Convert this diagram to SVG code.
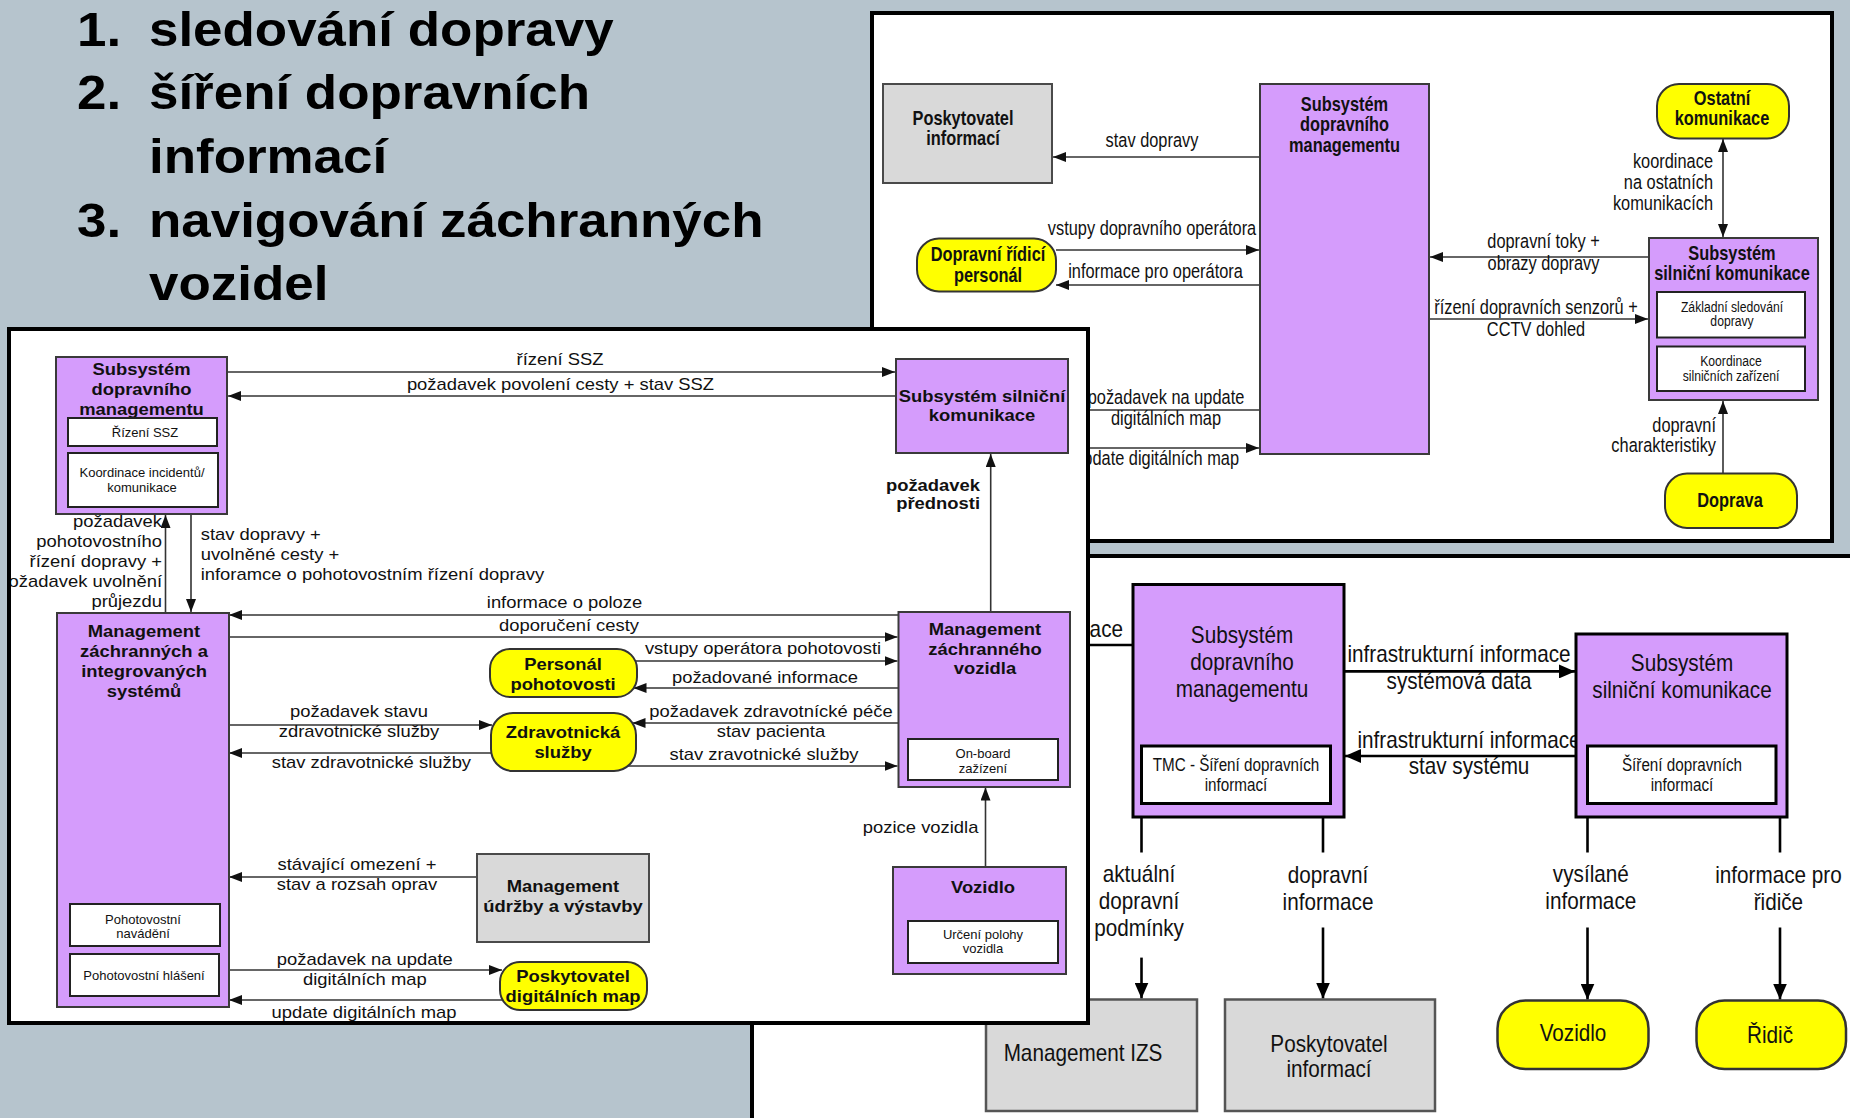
<svg xmlns="http://www.w3.org/2000/svg" width="1850" height="1118" viewBox="0 0 1850 1118">
<defs>
<style>
text{font-family:"Liberation Sans",Arial,sans-serif;fill:#111}
.b{font-weight:bold}
.m{text-anchor:middle}
.e{text-anchor:end}
.f1{font-size:19.5px}
.f1s{font-size:14px}
.f2{font-size:16px}
.f2s{font-size:13px}
.f3{font-size:23px}
.f3s{font-size:17.5px}
.ti{font-size:49px;font-weight:bold;fill:#000}
.panel{fill:#fff;stroke:#000;stroke-width:4}
.pu{fill:#d59cfc;stroke:#3a3a3a;stroke-width:2}
.pu3{fill:#d59cfc;stroke:#000;stroke-width:3}
.gr{fill:#d9d9d9;stroke:#4a4a4a;stroke-width:2}
.gr3{fill:#d9d9d9;stroke:#555;stroke-width:2.5}
.ye{fill:#ffff00;stroke:#333;stroke-width:2}
.ye3{fill:#ffff00;stroke:#333;stroke-width:2.5}
.wh{fill:#fff;stroke:#222;stroke-width:2}
.wh3{fill:#fff;stroke:#000;stroke-width:3}
.c{fill:none;stroke:#333;stroke-width:1.6}
.c3{fill:none;stroke:#000;stroke-width:2.6}
</style>
<marker id="ah" markerUnits="userSpaceOnUse" markerWidth="13" markerHeight="10" refX="13" refY="5" orient="auto-start-reverse"><path d="M0,0 L13,5 L0,10 z" fill="#111"/></marker>
<marker id="ah3" markerUnits="userSpaceOnUse" markerWidth="16" markerHeight="14" refX="16" refY="7" orient="auto"><path d="M0,0 L16,7 L0,14 z" fill="#000"/></marker>
<clipPath id="clip2"><rect x="11" y="331" width="1075" height="690"/></clipPath>
</defs>
<rect width="1850" height="1118" fill="#b6c4cd"/>

<g id="title">
<text class="ti" transform="translate(77,46) scale(1.08,1)">1.</text>
<text class="ti" transform="translate(149,46) scale(1.08,1)">sledování dopravy</text>
<text class="ti" transform="translate(77,109) scale(1.08,1)">2.</text>
<text class="ti" transform="translate(149,109) scale(1.08,1)">šíření dopravních</text>
<text class="ti" transform="translate(149,173) scale(1.08,1)">informací</text>
<text class="ti" transform="translate(77,237) scale(1.08,1)">3.</text>
<text class="ti" transform="translate(149,237) scale(1.08,1)">navigování záchranných</text>
<text class="ti" transform="translate(149,300) scale(1.08,1)">vozidel</text>
</g>

<!-- ===== Panel 1 (top right) ===== -->
<g id="panel-top-right">
<rect class="panel" x="872" y="13" width="960" height="528"/>
<g id="connectors-top">
<line class="c" x1="1260" y1="157" x2="1053" y2="157" marker-end="url(#ah)"/>
<line class="c" x1="1056" y1="250" x2="1259" y2="250" marker-end="url(#ah)"/>
<line class="c" x1="1261" y1="285" x2="1056" y2="285" marker-end="url(#ah)"/>
<line class="c" x1="1260" y1="410" x2="1075" y2="410" marker-end="url(#ah)"/>
<line class="c" x1="1070" y1="448" x2="1259" y2="448" marker-end="url(#ah)"/>
<line class="c" x1="1649" y1="257" x2="1430" y2="257" marker-end="url(#ah)"/>
<line class="c" x1="1429" y1="319" x2="1648" y2="319" marker-end="url(#ah)"/>
<line class="c" x1="1723" y1="237" x2="1723" y2="139" marker-start="url(#ah)" marker-end="url(#ah)"/>
<line class="c" x1="1723" y1="473" x2="1723" y2="401" marker-end="url(#ah)"/>
<text class="f1 m" transform="translate(1152,147) scale(.84,1)">stav dopravy</text>
<text class="f1 m" transform="translate(1152,235) scale(.84,1)">vstupy dopravního operátora</text>
<text class="f1 m" transform="translate(1155.5,278) scale(.84,1)">informace pro operátora</text>
<text class="f1 m" transform="translate(1166,404) scale(.84,1)">požadavek na update<tspan x="0" dy="21.5">digitálních map</tspan></text>
<text class="f1 e" transform="translate(1239,465) scale(.84,1)">update digitálních map</text>
<text class="f1 m" transform="translate(1543.5,248.3) scale(.84,1)">dopravní toky +<tspan x="0" dy="21.7">obrazy dopravy</tspan></text>
<text class="f1 m" transform="translate(1536,314) scale(.84,1)">řízení dopravních senzorů +<tspan x="0" dy="22">CCTV dohled</tspan></text>
<text class="f1 e" transform="translate(1713,168) scale(.84,1)">koordinace<tspan x="0" dy="21">na ostatních</tspan><tspan x="0" dy="21">komunikacích</tspan></text>
<text class="f1 e" transform="translate(1716,431.5) scale(.84,1)">dopravní<tspan x="0" dy="21">charakteristiky</tspan></text>
</g>
<g id="p1-poskytovatel-informaci"><rect class="gr" x="883" y="84" width="169" height="99"/><text class="f1 b m" transform="translate(963,124.5) scale(.84,1)">Poskytovatel<tspan x="0" dy="21">informací</tspan></text></g>
<g id="p1-subsystem-dm"><rect class="pu" x="1260" y="84" width="169" height="370"/><text class="f1 b m" transform="translate(1344.5,110.5) scale(.84,1)">Subsystém<tspan x="0" dy="21">dopravního</tspan><tspan x="0" dy="21">managementu</tspan></text></g>
<g id="p1-dopravni-ridici-personal"><rect class="ye" x="917" y="238.5" width="139" height="53" rx="22"/><text class="f1 b m" transform="translate(988,261) scale(.84,1)">Dopravní řídicí<tspan x="0" dy="21">personál</tspan></text></g>
<g id="p1-ostatni-komunikace"><rect class="ye" x="1657" y="84" width="132" height="54.5" rx="22"/><text class="f1 b m" transform="translate(1722,104.5) scale(.84,1)">Ostatní<tspan x="0" dy="21">komunikace</tspan></text></g>
<g id="p1-subsystem-sk"><rect class="pu" x="1649" y="238" width="169" height="162"/><text class="f1 b m" transform="translate(1732,259.5) scale(.84,1)">Subsystém<tspan x="0" dy="21">silniční komunikace</tspan></text>
<rect class="wh" x="1657" y="292" width="148" height="45.5"/><text class="f1s m" transform="translate(1732,311.5) scale(.87,1)">Základní sledování<tspan x="0" dy="14.5">dopravy</tspan></text>
<rect class="wh" x="1657" y="346.5" width="148" height="44.5"/><text class="f1s m" transform="translate(1731,365.5) scale(.87,1)">Koordinace<tspan x="0" dy="15.5">silničních zařízení</tspan></text></g>
<g id="p1-doprava"><rect class="ye" x="1665" y="473.5" width="132" height="54.5" rx="22"/><text class="f1 b m" transform="translate(1730,507) scale(.84,1)">Doprava</text></g>
</g>

<!-- ===== Panel 3 (bottom right) ===== -->
<g id="panel-bottom-right">
<rect class="panel" x="752" y="556" width="1200" height="700"/>
<g id="connectors-bottom-right">
<line class="c3" x1="1087" y1="645" x2="1133" y2="645"/>
<text class="f3 e" transform="translate(1123,637) scale(.9,1)">ace</text>
<line class="c3" x1="1344" y1="671.4" x2="1575" y2="671.4" marker-end="url(#ah3)"/>
<line class="c3" x1="1576" y1="756" x2="1345" y2="756" marker-end="url(#ah3)"/>
<text class="f3 m" transform="translate(1459,662.3) scale(.9,1)">infrastrukturní informace<tspan x="0" dy="27.2">systémová data</tspan></text>
<text class="f3 m" transform="translate(1469,747.5) scale(.9,1)">infrastrukturní informace<tspan x="0" dy="27">stav systému</tspan></text>
<line class="c3" x1="1141.5" y1="817" x2="1141.5" y2="852.5"/>
<line class="c3" x1="1141.5" y1="957.6" x2="1141.5" y2="998.5" marker-end="url(#ah3)"/>
<line class="c3" x1="1323" y1="817" x2="1323" y2="852.5"/>
<line class="c3" x1="1323" y1="927.5" x2="1323" y2="998.5" marker-end="url(#ah3)"/>
<line class="c3" x1="1587.5" y1="817" x2="1587.5" y2="852.5"/>
<line class="c3" x1="1587.5" y1="927.5" x2="1587.5" y2="999.5" marker-end="url(#ah3)"/>
<line class="c3" x1="1780" y1="817" x2="1780" y2="852.5"/>
<line class="c3" x1="1780" y1="927.5" x2="1780" y2="999.5" marker-end="url(#ah3)"/>
<text class="f3 m" transform="translate(1139,881.5) scale(.9,1)">aktuální<tspan x="0" dy="27.2">dopravní</tspan><tspan x="0" dy="27.2">podmínky</tspan></text>
<text class="f3 m" transform="translate(1328,883.3) scale(.9,1)">dopravní<tspan x="0" dy="27.2">informace</tspan></text>
<text class="f3 m" transform="translate(1590.8,881.5) scale(.9,1)">vysílané<tspan x="0" dy="27.2">informace</tspan></text>
<text class="f3 m" transform="translate(1778.4,883.3) scale(.9,1)">informace pro<tspan x="0" dy="27.2">řidiče</tspan></text>
</g>
<g id="p3-subsystem-dm"><rect class="pu3" x="1133" y="584.5" width="211" height="232.5"/><text class="f3 m" transform="translate(1242,643) scale(.9,1)">Subsystém<tspan x="0" dy="26.8">dopravního</tspan><tspan x="0" dy="26.8">managementu</tspan></text>
<rect class="wh3" x="1141.5" y="746" width="189" height="57.5"/><text class="f3s m" transform="translate(1236,771) scale(.87,1)">TMC - Šíření dopravních<tspan x="0" dy="20">informací</tspan></text></g>
<g id="p3-subsystem-sk"><rect class="pu3" x="1576" y="634" width="211" height="183"/><text class="f3 m" transform="translate(1682,671.4) scale(.9,1)">Subsystém<tspan x="0" dy="27">silniční komunikace</tspan></text>
<rect class="wh3" x="1587.5" y="746" width="188.5" height="57.5"/><text class="f3s m" transform="translate(1682,771) scale(.87,1)">Šíření dopravních<tspan x="0" dy="20">informací</tspan></text></g>
<g id="p3-management-izs"><rect class="gr3" x="986" y="999.5" width="211" height="111.5"/><text class="f3 m" transform="translate(1083,1061) scale(.9,1)">Management IZS</text></g>
<g id="p3-poskytovatel-informaci"><rect class="gr3" x="1225" y="999.5" width="210" height="111.5"/><text class="f3 m" transform="translate(1329,1052) scale(.9,1)">Poskytovatel<tspan x="0" dy="25">informací</tspan></text></g>
<g id="p3-vozidlo"><rect class="ye3" x="1497.5" y="1000.5" width="151" height="68.5" rx="28"/><text class="f3 m" transform="translate(1573,1041) scale(.9,1)">Vozidlo</text></g>
<g id="p3-ridic"><rect class="ye3" x="1696.5" y="1000.5" width="149.5" height="68.5" rx="28"/><text class="f3 m" transform="translate(1770,1043) scale(.9,1)">Řidič</text></g>
</g>

<!-- ===== Panel 2 (bottom left) ===== -->
<g id="panel-bottom-left">
<rect class="panel" x="9" y="329" width="1079" height="694"/>
<g clip-path="url(#clip2)">
<g id="connectors-bottom-left">
<line class="c" x1="227" y1="372" x2="895" y2="372" marker-end="url(#ah)"/>
<line class="c" x1="896" y1="396" x2="228" y2="396" marker-end="url(#ah)"/>
<line class="c" x1="165.5" y1="613" x2="165.5" y2="515" marker-end="url(#ah)"/>
<line class="c" x1="191" y1="514" x2="191" y2="612" marker-end="url(#ah)"/>
<line class="c" x1="898" y1="615" x2="229" y2="615" marker-end="url(#ah)"/>
<line class="c" x1="229" y1="637" x2="897.5" y2="637" marker-end="url(#ah)"/>
<line class="c" x1="630" y1="661" x2="897.5" y2="661" marker-end="url(#ah)"/>
<line class="c" x1="898" y1="688" x2="633.5" y2="688" marker-end="url(#ah)"/>
<line class="c" x1="898" y1="723" x2="632.5" y2="723" marker-end="url(#ah)"/>
<line class="c" x1="628" y1="766" x2="897.5" y2="766" marker-end="url(#ah)"/>
<line class="c" x1="229" y1="725" x2="492" y2="725" marker-end="url(#ah)"/>
<line class="c" x1="495" y1="753" x2="229" y2="753" marker-end="url(#ah)"/>
<line class="c" x1="990.7" y1="612" x2="990.7" y2="454" marker-end="url(#ah)"/>
<line class="c" x1="985.5" y1="867" x2="985.5" y2="787.5" marker-end="url(#ah)"/>
<line class="c" x1="477" y1="877" x2="229" y2="877" marker-end="url(#ah)"/>
<line class="c" x1="229" y1="970" x2="502" y2="970" marker-end="url(#ah)"/>
<line class="c" x1="505" y1="1000" x2="229" y2="1000" marker-end="url(#ah)"/>
<text class="f2 m" transform="translate(560,365) scale(1.15,1)">řízení SSZ</text>
<text class="f2 m" transform="translate(560.5,390) scale(1.15,1)">požadavek povolení cesty + stav SSZ</text>
<text class="f2 e" transform="translate(162,526.7) scale(1.15,1)">požadavek<tspan x="0" dy="20">pohotovostního</tspan><tspan x="0" dy="20">řízení dopravy +</tspan><tspan x="0" dy="20">požadavek uvolnění</tspan><tspan x="0" dy="20">průjezdu</tspan></text>
<text class="f2" transform="translate(200.7,540) scale(1.15,1)">stav dopravy +<tspan x="0" dy="20">uvolněné cesty +</tspan><tspan x="0" dy="20">inforamce o pohotovostním řízení dopravy</tspan></text>
<text class="f2 m" transform="translate(564.5,608.3) scale(1.15,1)">informace o poloze</text>
<text class="f2 m" transform="translate(569,630.7) scale(1.15,1)">doporučení cesty</text>
<text class="f2 m" transform="translate(763,654) scale(1.15,1)">vstupy operátora pohotovosti</text>
<text class="f2 m" transform="translate(765,683.3) scale(1.15,1)">požadované informace</text>
<text class="f2 m" transform="translate(771,716.7) scale(1.15,1)">požadavek zdravotnícké péče<tspan x="0" dy="20">stav pacienta</tspan></text>
<text class="f2 m" transform="translate(764,760) scale(1.15,1)">stav zravotnické služby</text>
<text class="f2 m" transform="translate(359,717.3) scale(1.15,1)">požadavek stavu<tspan x="0" dy="20">zdravotnické služby</tspan></text>
<text class="f2 m" transform="translate(371.4,768.3) scale(1.15,1)">stav zdravotnické služby</text>
<text class="f2 b e" transform="translate(980,490.5) scale(1.15,1)">požadavek<tspan x="0" dy="19">přednosti</tspan></text>
<text class="f2 e" transform="translate(978.4,833.3) scale(1.15,1)">pozice vozidla</text>
<text class="f2 m" transform="translate(357,870) scale(1.15,1)">stávající omezení +<tspan x="0" dy="20">stav a rozsah oprav</tspan></text>
<text class="f2 m" transform="translate(364.8,965) scale(1.15,1)">požadavek na update<tspan x="0" dy="20">digitálních map</tspan></text>
<text class="f2 m" transform="translate(364,1018.3) scale(1.15,1)">update digitálních map</text>
</g>
<g id="p2-subsystem-dm"><rect class="pu" x="56" y="357" width="171" height="157"/><text class="f2 b m" transform="translate(141.5,375) scale(1.15,1)">Subsystém<tspan x="0" dy="20">dopravního</tspan><tspan x="0" dy="20">managementu</tspan></text>
<rect class="wh" x="68" y="418" width="149" height="28"/><text class="f2s m" x="145" y="436.7">Řízení SSZ</text>
<rect class="wh" x="68" y="453" width="150" height="54"/><text class="f2s m" x="142" y="477.3">Koordinace incidentů/<tspan x="142" dy="14.4">komunikace</tspan></text></g>
<g id="p2-subsystem-sk"><rect class="pu" x="896" y="359" width="172" height="94"/><text class="f2 b m" transform="translate(982,401.7) scale(1.15,1)">Subsystém silniční<tspan x="0" dy="19.5">komunikace</tspan></text></g>
<g id="p2-management-zis"><rect class="pu" x="57" y="613" width="172" height="394"/><text class="f2 b m" transform="translate(144,636.7) scale(1.15,1)">Management<tspan x="0" dy="20">záchranných a</tspan><tspan x="0" dy="20">integrovaných</tspan><tspan x="0" dy="20">systémů</tspan></text>
<rect class="wh" x="70" y="904" width="150" height="42"/><text class="f2s m" x="143" y="924">Pohotovostní<tspan x="143" dy="14.3">navádění</tspan></text>
<rect class="wh" x="70" y="954" width="149" height="42"/><text class="f2s m" x="144" y="980">Pohotovostní hlášení</text></g>
<g id="p2-management-zv"><rect class="pu" x="898.5" y="612" width="171.5" height="175"/><text class="f2 b m" transform="translate(985,635) scale(1.15,1)">Management<tspan x="0" dy="20">záchranného</tspan><tspan x="0" dy="19">vozidla</tspan></text>
<rect class="wh" x="908" y="739" width="150" height="41"/><text class="f2s m" x="983" y="758.3">On-board<tspan x="983" dy="14.4">zažízení</tspan></text></g>
<g id="p2-personal-pohotovosti"><rect class="ye" x="490" y="649" width="147" height="48" rx="20"/><text class="f2 b m" transform="translate(563,670) scale(1.15,1)">Personál<tspan x="0" dy="20">pohotovosti</tspan></text></g>
<g id="p2-zdravotnicka-sluzby"><rect class="ye" x="491" y="713" width="145" height="58" rx="22"/><text class="f2 b m" transform="translate(563,738.3) scale(1.15,1)">Zdravotnická<tspan x="0" dy="20">služby</tspan></text></g>
<g id="p2-management-udrzby"><rect class="gr" x="477" y="854" width="172" height="88"/><text class="f2 b m" transform="translate(563,891.7) scale(1.15,1)">Management<tspan x="0" dy="20">údržby a výstavby</tspan></text></g>
<g id="p2-poskytovatel-map"><rect class="ye" x="500" y="962" width="147" height="48" rx="20"/><text class="f2 b m" transform="translate(573,981.7) scale(1.15,1)">Poskytovatel<tspan x="0" dy="20">digitálních map</tspan></text></g>
<g id="p2-vozidlo"><rect class="pu" x="893" y="867" width="173" height="107"/><text class="f2 b m" transform="translate(983,893.3) scale(1.15,1)">Vozidlo</text>
<rect class="wh" x="908" y="921" width="150" height="42"/><text class="f2s m" x="983" y="939.3">Určení polohy<tspan x="983" dy="14">vozidla</tspan></text></g>
</g>
</g>
</svg>
